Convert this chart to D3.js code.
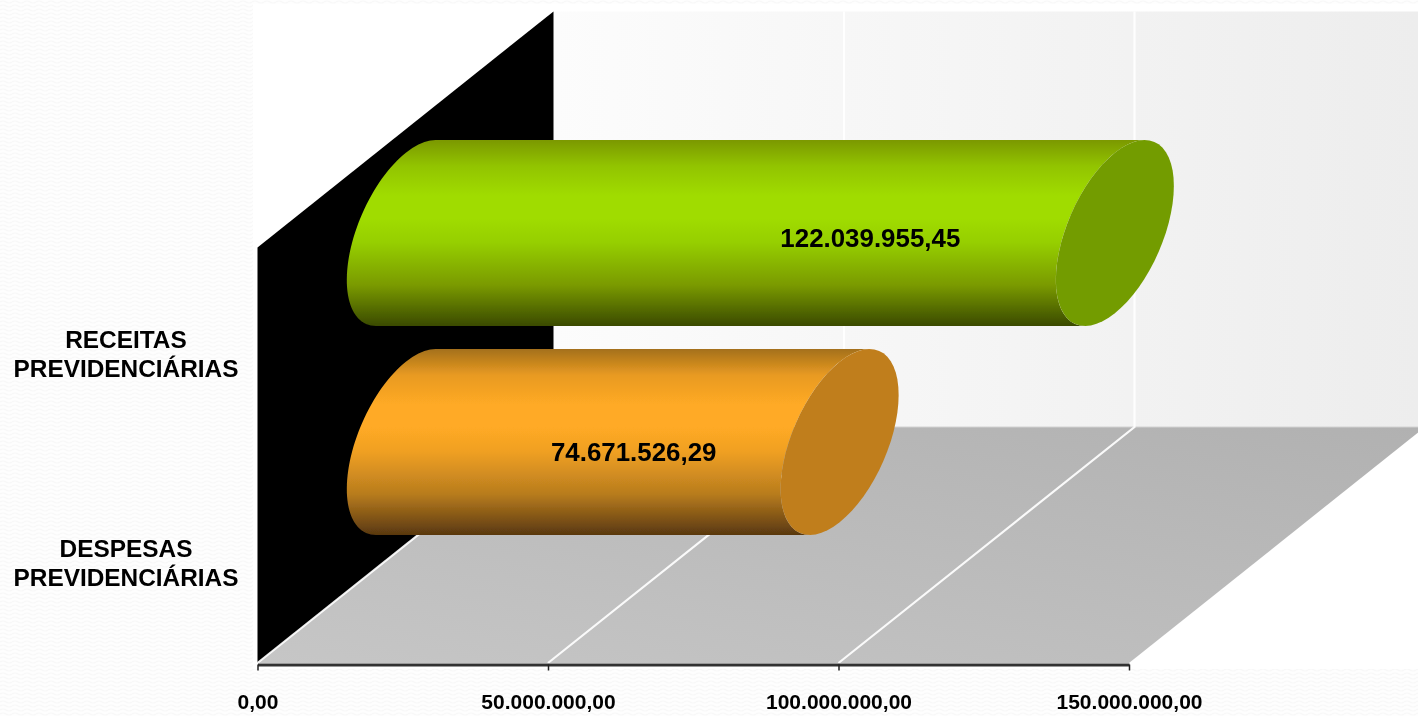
<!DOCTYPE html>
<html><head><meta charset="utf-8">
<script src="https://cdnjs.cloudflare.com/ajax/libs/d3/7.8.5/d3.min.js"></script>
<style>html,body{margin:0;padding:0;background:#fdfdfd;overflow:hidden}svg{display:block}</style>
</head><body><svg id="c" width="1418" height="716"></svg>
<script>
const categories = [["RECEITAS","PREVIDENCIÁRIAS"],["DESPESAS","PREVIDENCIÁRIAS"]];
const values = [122039955.45, 74671526.29];
const valueLabels = ["122.039.955,45","74.671.526,29"];
const tickValues = [0,50000000,100000000,150000000];
const tickLabels = ["0,00","50.000.000,00","100.000.000,00","150.000.000,00"];
const gradients = [
  ["#7b9800","#92c400","#a0dc00","#a0dc00","#96cf00","#7a9a00","#3a4a00"],
  ["#a4701a","#e89a22","#ffaa25","#ffaa25","#f0a023","#b87c1e","#593810"]
];
const capColors = ["#739c00","#c07e1c"];

const W=1418,H=716;
const svg=d3.select("#c");
const defs=svg.append("defs");
defs.append("filter").attr("id","soft").attr("x",0).attr("y",0).attr("width",1).attr("height",1)
  .append("feGaussianBlur").attr("stdDeviation",0.5);
const root=svg.append("g").attr("filter","url(#soft)");

const x=d3.scaleLinear().domain([0,150000000]).range([257.5,1129]);
const y=d3.scaleBand().domain(categories.map((d,i)=>i)).range([246.5,664.5]);
const depthX=296, depthY=-236;
const barH=186;

// page texture and plot backdrop
const tex=defs.append("pattern").attr("id","tex").attr("patternUnits","userSpaceOnUse").attr("width",12).attr("height",8);
tex.append("rect").attr("width",12).attr("height",8).attr("fill","#fefefe");
tex.append("path").attr("d","M0,2Q3,0 6,2T12,2M0,6Q3,4 6,6T12,6").attr("fill","none").attr("stroke","#f8f8f8").attr("stroke-width",1.2);
root.append("rect").attr("width",W).attr("height",H).attr("fill","url(#tex)");
root.append("rect").attr("x",253).attr("y",4).attr("width",W-253).attr("height",665).attr("fill","#fff");

let g=defs.append("linearGradient").attr("id","wall");
g.append("stop").attr("offset","0").attr("stop-color","#fcfcfc");
g.append("stop").attr("offset","1").attr("stop-color","#ededed");
g=defs.append("linearGradient").attr("id","floor").attr("x1",0).attr("y1",1).attr("x2",1).attr("y2",0);
g.append("stop").attr("offset","0").attr("stop-color","#c6c6c6");
g.append("stop").attr("offset","1").attr("stop-color","#b1b1b1");

const x0=x(0), yB=663, yT=247.5, xMax=x(150000000);
const poly=p=>"M"+p.map(d=>d.join(",")).join("L")+"Z";
root.append("path").attr("d",poly([[x0+depthX,yT+depthY],[W,yT+depthY],[W,yB+depthY],[x0+depthX,yB+depthY]])).attr("fill","url(#wall)");
root.append("path").attr("d",poly([[x0,yB],[xMax,yB],[xMax+depthX,yB+depthY],[x0+depthX,yB+depthY]])).attr("fill","url(#floor)");
root.append("path").attr("d",`M${x0+depthX},${yB+depthY}H${W}`).attr("stroke","#d2d2d2").attr("stroke-width",1);
root.append("path").attr("d",poly([[x0,yT],[x0+depthX,yT+depthY],[x0+depthX,yB+depthY],[x0,yB]])).attr("fill","#000");

// grid
tickValues.forEach(t=>{
  const onFloor=t<150000000;
  let d=`M${x(t)+depthX},${yB+depthY}V${yT+depthY}`;
  if(onFloor) d=`M${x(t)},${yB}L${x(t)+depthX},${yB+depthY}`+(t?`V${yT+depthY}`:"");
  root.append("path").attr("d",d).attr("fill","none").attr("stroke","#fff").attr("stroke-width",2.2).attr("opacity",.92);
});

// axis
const axis=root.append("g").attr("transform",`translate(0,${yB+1.5})`)
  .call(d3.axisBottom(x).tickValues(tickValues).tickSize(6).tickSizeOuter(0).tickFormat((d,i)=>tickLabels[i]));
axis.select(".domain").attr("stroke","#333").attr("stroke-width",2.8);
axis.selectAll(".tick line").attr("stroke","#222").attr("stroke-width",1.5);
axis.selectAll(".tick text").attr("y",44.5).attr("dy",0).attr("fill","#000")
  .attr("font-family","'Liberation Sans',Arial,sans-serif").attr("font-weight","700").attr("font-size",21);

// cylinders
const A=59, R=barH/2, B=A*(-depthY/depthX), C=Math.sqrt(R*R-B*B);
const cap=(cx,cy,t0,t1)=>d3.range(0,61).map(i=>{const t=t0+(t1-t0)*i/60;return [cx+A*Math.cos(t),cy-B*Math.cos(t)+C*Math.sin(t)];});
const tTop=Math.atan2(-C,B), tBot=tTop+Math.PI;
const line=d3.line();
const labelShift=[[110,5],[11,10]];   // hand-placed labels in the source chart
values.forEach((v,i)=>{
  const cy=y(i)+y.bandwidth()/2+depthY/2;
  const xs=x(0)+depthX/2+.3, xe=x(v)+depthX/2+.3;
  const gid="bar"+i;
  const lg=defs.append("linearGradient").attr("id",gid).attr("gradientUnits","userSpaceOnUse")
    .attr("x1",0).attr("x2",0).attr("y1",cy-R).attr("y2",cy+R);
  [0,.14,.3,.42,.55,.78,1].forEach((o,k)=>lg.append("stop").attr("offset",o).attr("stop-color",gradients[i][k]));
  const left=cap(xs,cy,tTop,tTop-Math.PI);
  const right=cap(xe,cy,tBot-2*Math.PI,tTop);
  root.append("path").attr("d",line(left.concat(right))+"Z").attr("fill",`url(#${gid})`);
  root.append("path").attr("d",line(cap(xe,cy,0,2*Math.PI))+"Z").attr("fill",capColors[i]);
  root.append("text").attr("x",(xs+xe)/2+labelShift[i][0]).attr("y",cy+labelShift[i][1]).attr("dy","0.35em")
    .attr("text-anchor","middle").attr("font-family","'Liberation Sans',Arial,sans-serif")
    .attr("font-weight","700").attr("font-size",25.9).text(valueLabels[i]);
});

// category labels
categories.forEach((lines,i)=>{
  const c=y(i)+y.bandwidth()/2+3;
  lines.forEach((t,k)=>{
    root.append("text").attr("x",126).attr("y",c+(k-.5)*28.5).attr("dy","0.35em").attr("text-anchor","middle")
      .attr("font-family","'Liberation Sans',Arial,sans-serif").attr("font-weight","700").attr("font-size",24.4).text(t);
  });
});
</script></body></html>
